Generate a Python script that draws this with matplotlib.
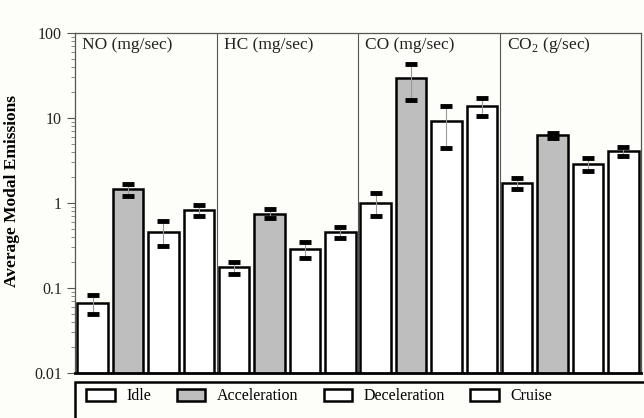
import numpy as np
import matplotlib.pyplot as plt
from matplotlib.patches import Patch, Rectangle

plt.rcParams["font.family"] = ["Liberation Serif", "DejaVu Serif"]
plt.rcParams["mathtext.fontset"] = "custom"
plt.rcParams["mathtext.rm"] = "Liberation Serif"

panels = ["NO (mg/sec)", "HC (mg/sec)", "CO (mg/sec)",
          r"CO$_{\mathrm{2}}$ (g/sec)"]
modes = ["Idle", "Acceleration", "Deceleration", "Cruise"]

# mean, upper cap, lower cap for each mode, per panel (NO, HC, CO, CO2)
means = [
    [0.067, 1.46, 0.45, 0.83],
    [0.178, 0.74, 0.29, 0.46],
    [1.0, 29.8, 9.1, 13.7],
    [1.73, 6.3, 2.88, 4.12],
]
upper = [
    [0.083, 1.67, 0.61, 0.95],
    [0.202, 0.84, 0.345, 0.52],
    [1.3, 43.0, 13.7, 17.2],
    [1.96, 6.6, 3.35, 4.6],
]
lower = [
    [0.049, 1.22, 0.31, 0.70],
    [0.146, 0.66, 0.227, 0.39],
    [0.70, 16.5, 4.4, 10.6],
    [1.47, 5.8, 2.37, 3.6],
]
mode_colors = ["white", "#bebebe", "white", "white"]

fig = plt.figure(figsize=(6.44, 4.18), dpi=100)
fig.patch.set_facecolor("#fdfdf9")
ax = fig.add_axes([75 / 644, 1 - 373 / 418, 566 / 644, 340 / 418])
ax.set_facecolor("#fdfdf9")

for p in range(4):
    x = np.arange(4) + 4 * p
    m = np.array(means[p])
    up = np.array(upper[p]) - m
    lo = m - np.array(lower[p])
    ax.bar(x, m, width=0.86, color=mode_colors, edgecolor="black",
           linewidth=1.8, zorder=2)
    eb = ax.errorbar(x, m, yerr=[lo, up], fmt="none", ecolor="#999999",
                     elinewidth=0.8, capsize=4, capthick=3.5, zorder=3)
    for cl in eb[1]:
        cl.set_markeredgecolor("black")
        cl.set_markerfacecolor("black")
    ax.text(4 * p - 0.3, 72, panels[p], fontsize=12.5, va="center",
            ha="left", color="#222222")
    if p > 0:
        ax.axvline(4 * p - 0.5, color="#555555", linewidth=0.8, zorder=1)

ax.set_yscale("log")
ax.set_ylim(0.01, 100)
ax.set_xlim(-0.5, 15.5)
ax.set_xticks([])
ax.set_yticks([0.01, 0.1, 1, 10, 100])
ax.set_yticklabels(["0.01", "0.1", "1", "10", "100"])
ax.tick_params(axis="y", which="major", direction="out", length=6,
               labelsize=11.5, color="#555555", labelcolor="#222222")
ax.tick_params(axis="y", which="minor", direction="out", length=3,
               color="#777777")
for s in ["top", "left", "right"]:
    ax.spines[s].set_color("#555555")
    ax.spines[s].set_linewidth(0.9)
ax.spines["bottom"].set_linewidth(2)
ax.set_ylabel("Average Modal Emissions", fontsize=12.5, fontweight="bold")
ax.yaxis.set_label_coords(-0.097, 0.535)

# legend box, cut off by the bottom of the figure
fig.patches.append(Rectangle((75 / 644, 0 - 0.05), 600 / 644,
                             (418 - 382) / 418 + 0.05,
                             transform=fig.transFigure, fill=False,
                             edgecolor="black", linewidth=1.8))
handles = [Patch(facecolor=c, edgecolor="black", linewidth=1.8)
           for c in mode_colors]
fig.legend(handles, modes, loc="upper left", ncol=4, frameon=False,
           bbox_to_anchor=(80 / 644, 1 - 382 / 418), fontsize=11.5,
           handlelength=1.8, handleheight=0.8, handletextpad=0.7,
           columnspacing=1.6, borderaxespad=0)

fig.savefig("out.png", dpi=100, facecolor=fig.get_facecolor())
